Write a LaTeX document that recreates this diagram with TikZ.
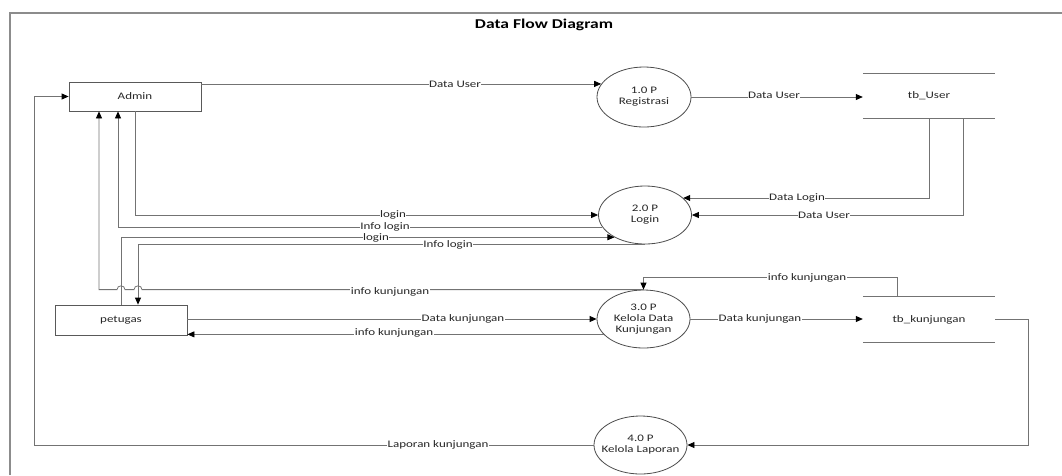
\documentclass[tikz,border=0pt]{standalone}
\usepackage{fontspec}
\setmainfont{Carlito}[FakeStretch=1.3]
\usetikzlibrary{arrows.meta,calc,shapes.geometric}
\begin{document}
\begin{tikzpicture}[x=1pt,y=-1pt,
  every node/.style={font=\fontsize{10}{11}\selectfont, text=black!85},
  ent/.style={draw=black!65, line width=0.8pt, minimum width=132pt, minimum height=29pt, inner sep=0pt},
  proc/.style={ellipse, draw=black!70, line width=0.8pt, minimum width=93pt, minimum height=58pt, inner xsep=-14pt, inner ysep=0pt, align=center},
  store/.style={minimum width=132pt, minimum height=44pt, inner sep=0pt},
  flow/.style={draw=black!55, line width=0.8pt, -{Triangle[length=7pt,width=6pt,color=black]}},
  plain/.style={draw=black!55, line width=0.8pt},
  lbl/.style={fill=white, inner sep=0.5pt},
]
\useasboundingbox (0,0) rectangle (1062,475);
\draw[line width=1.2pt, black!45] (10,475) -- (10,13) -- (1062,13);
\node[font=\fontsize{13.5}{15}\selectfont\bfseries, text=black] (title) at (544,25) {Data Flow Diagram};

\node[ent] (admin) at (135,96.5) {Admin};
\node[ent, minimum height=30pt] (pet) at (121,320) {petugas};
\node[proc, minimum width=94pt, minimum height=60pt] (p1) at (644,97) {1.0 P\\Registrasi};
\node[proc] (p2) at (645,215) {2.0 P\\Login};
\node[proc] (p3) at (643.5,319) {3.0 P\\Kelola Data\\Kunjungan};
\node[proc] (p4) at (640.5,445) {4.0 P\\Kelola Laporan};
\node[store] (us) at (929,96) {tb\_User};
\node[store, minimum height=45pt] (uk) at (929,319.5) {tb\_kunjungan};
\draw[plain] (us.north west) -- (us.north east) (us.south west) -- (us.south east);
\draw[plain] (uk.north west) -- (uk.north east) (uk.south west) -- (uk.south east);

\draw[flow] (p1.163 -| admin.east) -- (p1.163);
\draw[flow] (p1.east) -- (p1.east -| us.west);
\draw[flow] (us.south) |- (p2.24);
\draw[flow] ($(us.south)+(34,0)$) |- (p2.east);
\draw[flow] (admin.south) |- (p2.west);
\draw[flow] (p2.196) -| ($(admin.south)+(-17,0)$);
\draw[flow] (pet.north) |- (p2.216);
\draw[flow] (p2.south) -| ($(pet.north)+(17,0)$);
\coordinate (h) at (p3.north -| pet.north);
\draw[flow] (p3.north) -- ($(h)+(21,0)$) .. controls +(0,-5) and +(0,-5) .. ($(h)+(13,0)$)
  -- ($(h)+(4,0)$) .. controls +(0,-5) and +(0,-5) .. ($(h)+(-4,0)$)
  -| ($(admin.south)+(-36,0)$);
\draw[flow] ($(uk.north)+(-32,0)$) -- ++(0,-19) -| (p3.north);
\draw[flow] (p3.west -| pet.east) -- (p3.west);
\draw[flow] (p3.201) -- (p3.201 -| pet.east);
\draw[flow] (p3.east) -- (p3.east -| uk.west);
\coordinate (r) at ($(uk.east)+(33,0)$);
\draw[flow] (uk.east) -- (r) |- (p4.east);
\coordinate (L) at ($(admin.west)+(-34,0)$);
\draw[flow] (p4.west) -| (L) -- (admin.west);

\node[lbl] (l1) at (455,84) {Data User};
\node[lbl] (l2) at (774,95) {Data User};
\node[lbl] (l3) at (797,198) {Data Login};
\node[lbl] (l4) at (824,215) {Data User};
\node[lbl] (l5) at (393,215) {login};
\node[lbl] (l6) at (385,227) {Info login};
\node[lbl] (l7) at (376,238) {login};
\node[lbl] (l8) at (448,245) {Info login};
\node[lbl] (l9) at (390,292) {info kunjungan};
\node[lbl] (l10) at (807,278) {info kunjungan};
\node[lbl] (l11) at (463,319) {Data kunjungan};
\node[lbl] (l12) at (394,333) {info kunjungan};
\node[lbl] (l13) at (760,319) {Data kunjungan};
\node[lbl] (l14) at (438,445) {Laporan kunjungan};
\end{tikzpicture}
\end{document}
